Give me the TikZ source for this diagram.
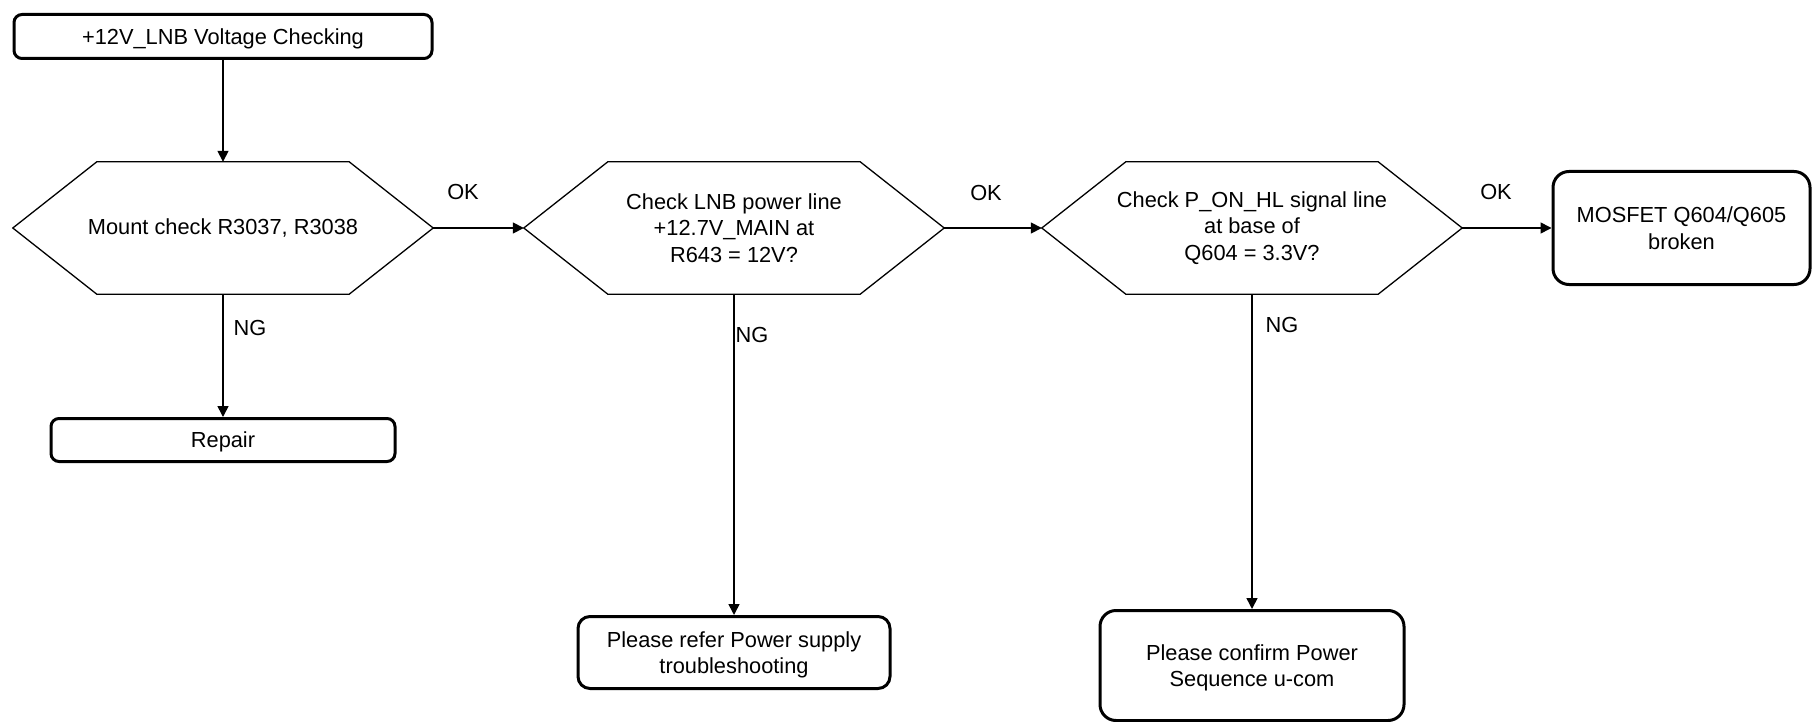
\documentclass[tikz,border=0pt]{standalone}
\usepackage{fontspec}
\setmainfont{Liberation Sans}
\usetikzlibrary{arrows.meta, positioning}

\begin{document}
\begin{tikzpicture}[
    x=1pt, y=-1pt,
    font=\fontsize{21.8}{26.5}\selectfont,
    endbox/.style={
        rectangle, rounded corners=8pt, draw=black, line width=3pt,
        inner sep=0pt, text depth=0pt, align=center
    },
    decision/.style={
        rectangle, minimum width=420pt, minimum height=132pt,
        inner sep=0pt, align=center
    },
    hexline/.style={draw=black, line width=1.3pt, line join=miter},
    arrow/.style={-{Triangle[length=11pt, width=11pt]}, line width=1.6pt},
    lbl/.style={inner sep=0pt}
]
\useasboundingbox (0,0) rectangle (1812,722);

% Start
\node[endbox, minimum width=418pt, minimum height=44pt] (start) at (223,36.5) {+12V\_LNB Voltage Checking};

% Decisions (top row)
\node[decision] (chk_mount) at (223,228) {Mount check R3037, R3038};
\node[decision] (chk_power) at (734,228) {Check LNB power line\\+12.7V\_MAIN at\\R643 = 12V?};
\node[decision] (chk_signal) at (1252,228) {Check P\_ON\_HL signal line\\at base of\\Q604 = 3.3V?};

\foreach \h in {chk_mount, chk_power, chk_signal}
    \draw[hexline] (\h.west) -- ([xshift=84pt]\h.north west) -- ([xshift=-84pt]\h.north east)
        -- (\h.east) -- ([xshift=-84pt]\h.south east) -- ([xshift=84pt]\h.south west) -- cycle;

% Results
\node[endbox, rounded corners=16pt, minimum width=257pt, minimum height=113pt] (mosfet) at (1681.5,228) {MOSFET Q604/Q605\\broken};
\node[endbox, minimum width=344pt, minimum height=43pt] (repair) at (223,440) {Repair};
\node[endbox, rounded corners=12pt, minimum width=312pt, minimum height=72pt] (ref_psu) at (734,652.5) {Please refer Power supply\\troubleshooting};
\node[endbox, rounded corners=16pt, minimum width=304pt, minimum height=110pt] (confirm_seq) at (1252,665.5) {Please confirm Power\\Sequence u-com};

% Connectors
\draw[arrow] (start) -- (chk_mount);
\draw[arrow] (chk_mount) -- (chk_power);
\draw[arrow] (chk_power) -- (chk_signal);
\draw[arrow] (chk_signal) -- (mosfet);
\draw[arrow] (chk_mount) -- (repair);
\draw[arrow] (chk_power) -- (ref_psu);
\draw[arrow] (chk_signal) -- (confirm_seq);

% Branch labels
\node[lbl] (ok_mount) at (463,192) {OK};
\node[lbl] (ok_power) at (986,193) {OK};
\node[lbl] (ok_signal) at (1496,192) {OK};
\node[lbl] (ng_mount) at (250,328) {NG};
\node[lbl] (ng_power) at (752,335) {NG};
\node[lbl] (ng_signal) at (1282,325) {NG};

\end{tikzpicture}
\end{document}
